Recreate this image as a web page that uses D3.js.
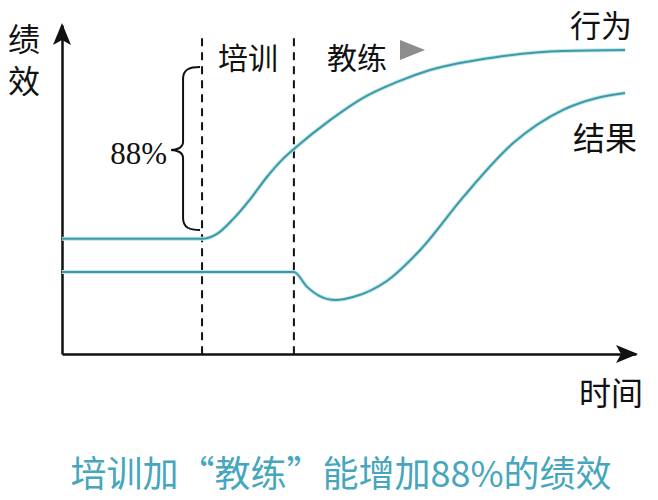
<!DOCTYPE html>
<html>
<head>
<meta charset="utf-8">
<script src="https://cdn.jsdelivr.net/npm/d3@7"></script>
<style>
  body { margin: 0; background: #fff; }
  text { font-family: "Noto Sans CJK SC", sans-serif; fill: #111; }
</style>
</head>
<body>
<svg></svg>
<script>
// time runs 0..100 along the axis, performance 0..100 up the axis
var behaviourTime = [0, 24.4, 27.0, 29.8, 32.8, 35.7, 38.5, 40.4, 46.7, 52.4, 58.4, 64.1, 75.8, 87.3, 98.1];
var behaviourPerf = [35, 35, 36.5, 41.0, 47.1, 53.8, 59.3, 62.3, 71.1, 77.8, 82.7, 86.3, 90.3, 92.1, 92.4];

var resultTime = [0, 40.4, 42.7, 44.9, 47.7, 50.7, 56.6, 62.4, 69.9, 78.6, 87.3, 93.2, 98.1];
var resultPerf = [24.9, 24.9, 20.4, 17.6, 16.4, 17.3, 22.2, 31.6, 47.7, 64.1, 74.2, 77.8, 79.3];

var phaseStart = [24.4, 40.4];   // training starts, coaching starts
var phaseLabels = ["培训", "教练"];
var seriesLabels = ["行为", "结果"];
var gainLabel = "88%";
var xLabel = "时间";
var yLabel = ["绩", "效"];
var caption = "培训加“教练”能增加88%的绩效";

var draw = function() {

	var width = 658, height = 500;
	var teal = "#3c9aa6";

	var svg = d3.select("svg")
		.attr("width", width)
		.attr("height", height);

	var x = d3.scaleLinear().domain([0, 100]).range([62, 636]);
	var y = d3.scaleLinear().domain([0, 100]).range([354, 25]);

	// axes without ticks, arrows drawn on the ends
	svg.append("g")
		.attr("transform", "translate(0," + y(0) + ")")
		.call(d3.axisBottom(x).ticks(0).tickSizeOuter(0))
		.select(".domain").attr("stroke", "#111").attr("stroke-width", 2.5);
	svg.append("g")
		.attr("transform", "translate(" + x(0) + ",0)")
		.call(d3.axisLeft(y).ticks(0).tickSizeOuter(0))
		.select(".domain").attr("stroke", "#111").attr("stroke-width", 2.5);

	svg.append("path")
		.attr("d", "M" + (x(100) + 2) + "," + y(0) + "l-22,-9l5,9l-5,9z")
		.attr("fill", "#111");
	svg.append("path")
		.attr("d", "M" + x(0) + "," + (y(100) - 2) + "l-9,22l9,-5l9,5z")
		.attr("fill", "#111");

	// dashed phase lines
	svg.selectAll(".phase")
		.data(phaseStart)
		.enter()
		.append("line")
		.attr("x1", function(d) { return x(d); })
		.attr("x2", function(d) { return x(d); })
		.attr("y1", y(96))
		.attr("y2", y(0))
		.attr("stroke", "#111")
		.attr("stroke-width", 2)
		.attr("stroke-dasharray", "8,6");

	// curves
	var line = d3.line()
		.x(function(d) { return x(d[0]); })
		.y(function(d) { return y(d[1]); })
		.curve(d3.curveMonotoneX);

	var behaviour = d3.zip(behaviourTime, behaviourPerf);
	var result = d3.zip(resultTime, resultPerf);

	[behaviour, result].forEach(function(s) {
		svg.append("path")
			.attr("d", line(s))
			.attr("fill", "none")
			.attr("stroke", "#bfe6ec")
			.attr("stroke-width", 4);
		svg.append("path")
			.attr("d", line(s))
			.attr("fill", "none")
			.attr("stroke", teal)
			.attr("stroke-width", 2);
	});

	// phase labels
	svg.append("text")
		.attr("x", (x(phaseStart[0]) + x(phaseStart[1])) / 2)
		.attr("y", 56)
		.attr("text-anchor", "middle")
		.attr("dominant-baseline", "central")
		.style("font-size", "30px")
		.text(phaseLabels[0]);
	svg.append("text")
		.attr("x", x(phaseStart[1]) + 33)
		.attr("y", 56)
		.attr("dominant-baseline", "central")
		.style("font-size", "30px")
		.text(phaseLabels[1]);
	svg.append("path")
		.attr("d", "M400,40L425,50L400,60z")
		.attr("fill", "#8c8c8c");

	// series labels
	var last = behaviour[behaviour.length - 1];
	svg.append("text")
		.attr("x", x(last[0]) - 24)
		.attr("y", 23)
		.attr("text-anchor", "middle")
		.attr("dominant-baseline", "central")
		.style("font-size", "31px")
		.text(seriesLabels[0]);
	svg.append("text")
		.attr("x", x(last[0]) - 20)
		.attr("y", 136)
		.attr("text-anchor", "middle")
		.attr("dominant-baseline", "central")
		.style("font-size", "32px")
		.text(seriesLabels[1]);

	// brace showing the 88% gain
	var bx = x(phaseStart[0]) - 2, top = 67, bot = 230, mid = 150;
	svg.append("path")
		.attr("d", "M" + bx + "," + top +
			"C" + (bx - 10) + "," + top + " " + (bx - 17) + "," + (top + 2) + " " + (bx - 17) + "," + (top + 12) +
			"L" + (bx - 17) + "," + (mid - 8) +
			"C" + (bx - 17) + "," + (mid - 2) + " " + (bx - 24) + "," + mid + " " + (bx - 29) + "," + mid +
			"C" + (bx - 24) + "," + mid + " " + (bx - 17) + "," + (mid + 2) + " " + (bx - 17) + "," + (mid + 8) +
			"L" + (bx - 17) + "," + (bot - 12) +
			"C" + (bx - 17) + "," + (bot - 2) + " " + (bx - 10) + "," + bot + " " + bx + "," + bot)
		.attr("fill", "none")
		.attr("stroke", "#111")
		.attr("stroke-width", 2);
	svg.append("text")
		.attr("x", 167)
		.attr("y", 164)
		.attr("text-anchor", "end")
		.style("font-family", "'Liberation Serif', serif")
		.style("font-size", "31px")
		.text(gainLabel);

	// axis titles
	svg.selectAll(".ylab")
		.data(yLabel)
		.enter()
		.append("text")
		.attr("x", 24)
		.attr("y", function(d, i) { return 37 + i * 42; })
		.attr("text-anchor", "middle")
		.attr("dominant-baseline", "central")
		.style("font-size", "32px")
		.text(function(d) { return d; });
	svg.append("text")
		.attr("x", 611)
		.attr("y", 391)
		.attr("text-anchor", "middle")
		.attr("dominant-baseline", "central")
		.style("font-size", "32px")
		.text(xLabel);

	// caption
	svg.append("text")
		.attr("x", 341)
		.attr("y", 471)
		.attr("text-anchor", "middle")
		.attr("dominant-baseline", "central")
		.style("font-size", "36px")
		.style("fill", "#45a6bd")
		.text(caption);
};

draw();
</script>
</body>
</html>
